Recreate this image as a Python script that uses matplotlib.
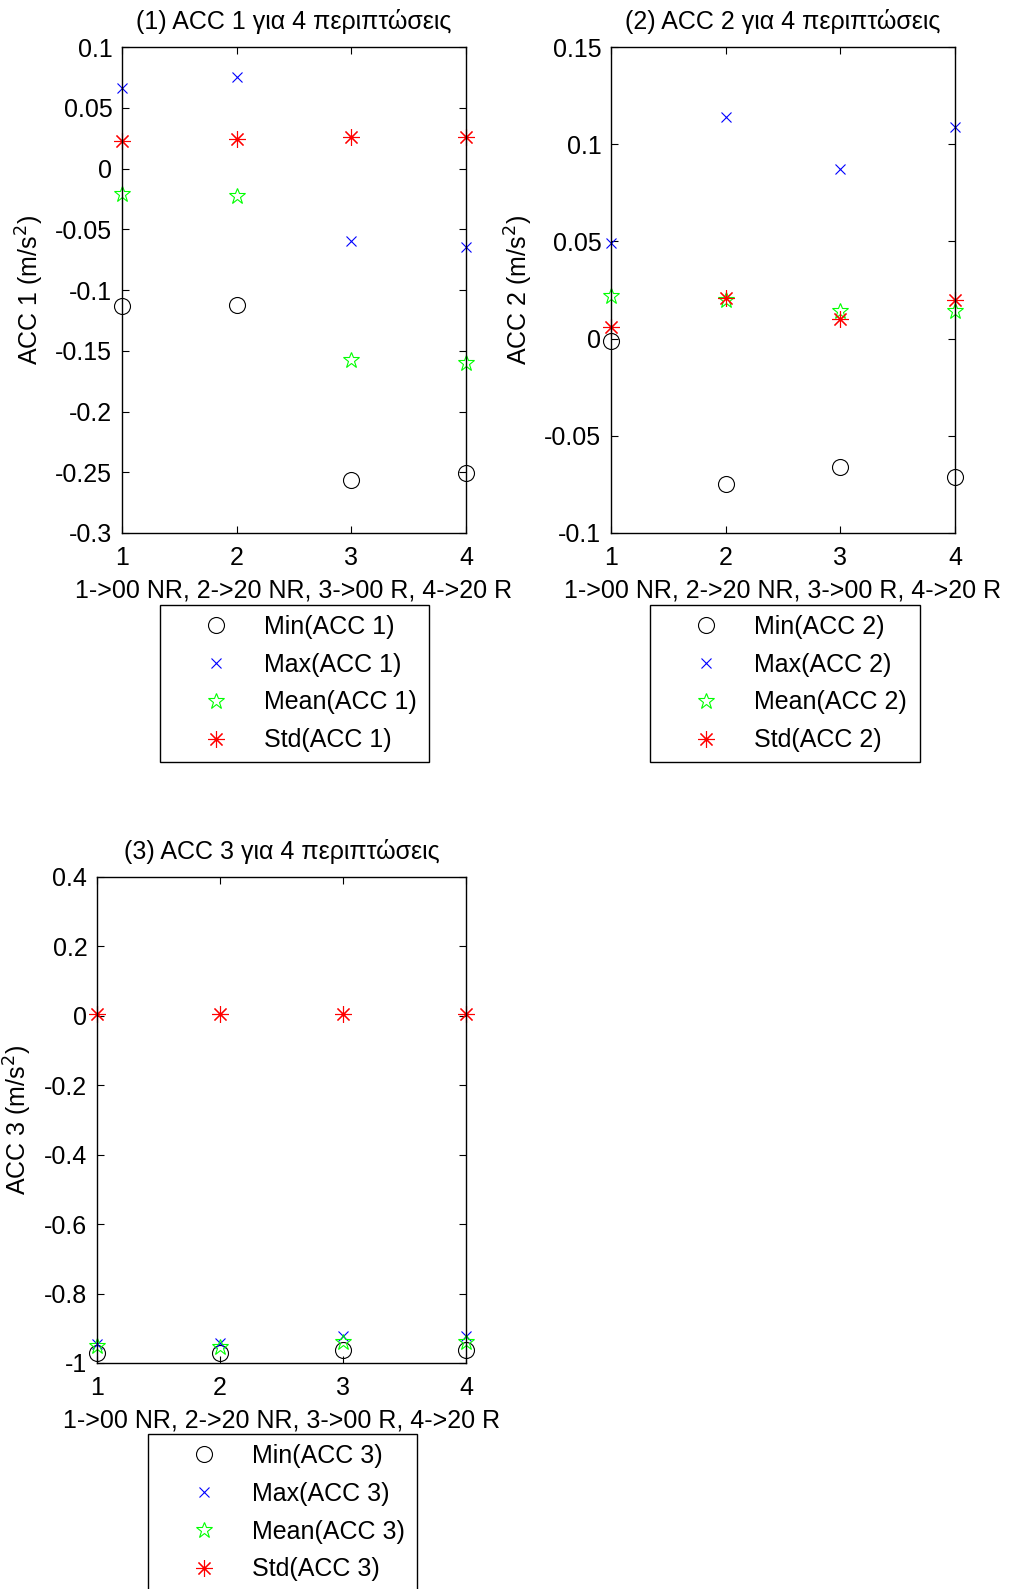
import numpy as np
import matplotlib
matplotlib.use('Agg')
import matplotlib.pyplot as plt

plt.rcParams['font.family'] = ['Liberation Sans', 'DejaVu Sans']
plt.rcParams['axes.unicode_minus'] = False

# ----- data -----
cases = [1, 2, 3, 4]

min_acc1  = [-0.113, -0.112, -0.256, -0.251]
max_acc1  = [0.066, 0.075, -0.060, -0.065]
mean_acc1 = [-0.021, -0.023, -0.158, -0.160]
std_acc1  = [0.023, 0.024, 0.026, 0.026]

min_acc2  = [-0.001, -0.075, -0.066, -0.071]
max_acc2  = [0.049, 0.114, 0.087, 0.109]
mean_acc2 = [0.022, 0.020, 0.014, 0.014]
std_acc2  = [0.006, 0.021, 0.010, 0.020]

min_acc3  = [-0.970, -0.972, -0.962, -0.962]
max_acc3  = [-0.945, -0.942, -0.921, -0.921]
mean_acc3 = [-0.950, -0.953, -0.940, -0.940]
std_acc3  = [0.005, 0.005, 0.005, 0.005]

yticks1 = [0.1, 0.05, 0, -0.05, -0.1, -0.15, -0.2, -0.25, -0.3]
yticks2 = [0.15, 0.1, 0.05, 0, -0.05, -0.1]
yticks3 = [0.4, 0.2, 0, -0.2, -0.4, -0.6, -0.8, -1]

xlabel_txt = '1->00 NR, 2->20 NR, 3->00 R, 4->20 R'

W, H = 1009, 1589
FS = 18


def px_rect(left, top, right, bottom):
    return [left / W, 1 - bottom / H, (right - left) / W, (bottom - top) / H]


def draw_panel(fig, rect, n, vmin, vmax, vmean, vstd, yticks, ylab_x, leg_box):
    ax = fig.add_axes(px_rect(*rect))
    ax.plot(cases, vmin, 'o', color='k', mfc='none', ms=11.5, mew=0.8, clip_on=False, label=f'Min(ACC {n})')
    ax.plot(cases, vmax, 'x', color='b', ms=7, mew=0.8, clip_on=False, label=f'Max(ACC {n})')
    ax.plot(cases, vmean, '*', color=(0, 1, 0), mfc='none', ms=12, mew=0.8, clip_on=False, label=f'Mean(ACC {n})')
    ax.plot(cases, vstd, linestyle='none', marker=(8, 2, 0), color='r', ms=12, mew=0.8, clip_on=False, label=f'Std(ACC {n})')

    ax.set_xlim(1, 4)
    ax.set_ylim(min(yticks), max(yticks))
    ax.set_xticks(cases)
    ax.set_yticks(yticks)
    ax.set_yticklabels([f'{t:g}' for t in yticks])
    ax.tick_params(direction='in', length=5, width=0.8, top=True, right=True, labelsize=FS)
    ax.tick_params(axis='x', pad=9.5)
    ax.tick_params(axis='y', pad=7)
    for sp in ax.spines.values():
        sp.set_linewidth(1.0)

    ax.set_title(f'({n}) ACC {n} για 4 περιπτώσεις', fontsize=FS, pad=13)
    ax.set_xlabel(xlabel_txt, fontsize=FS, labelpad=6)
    ax.set_ylabel(f'ACC {n} (m/s$^2$)', fontsize=FS)
    ax.yaxis.set_label_coords(ylab_x, 0.5)

    lx, ly, lw = leg_box
    ax.legend(loc='upper left', bbox_to_anchor=(lx / W, 1 - ly / H, lw / W, 0),
              bbox_transform=fig.transFigure, mode='expand', borderaxespad=0,
              fontsize=FS, fancybox=False, framealpha=1, edgecolor='k',
              borderpad=0.4, labelspacing=0.55, handlelength=3.7, handletextpad=0.07,
              numpoints=1)
    ax.get_legend().get_frame().set_linewidth(1.0)
    return ax


fig = plt.figure(figsize=(W / 100, H / 100), dpi=100)

draw_panel(fig, (122, 47, 466, 533), 1, min_acc1, max_acc1, mean_acc1, std_acc1,
           yticks1, -0.22, (160, 605, 269))
draw_panel(fig, (611, 47, 955, 533), 2, min_acc2, max_acc2, mean_acc2, std_acc2,
           yticks2, -0.22, (650, 605, 270))
draw_panel(fig, (97, 877, 466, 1363), 3, min_acc3, max_acc3, mean_acc3, std_acc3,
           yticks3, -0.172, (148, 1434, 269))

fig.savefig('out.png', dpi=100)
